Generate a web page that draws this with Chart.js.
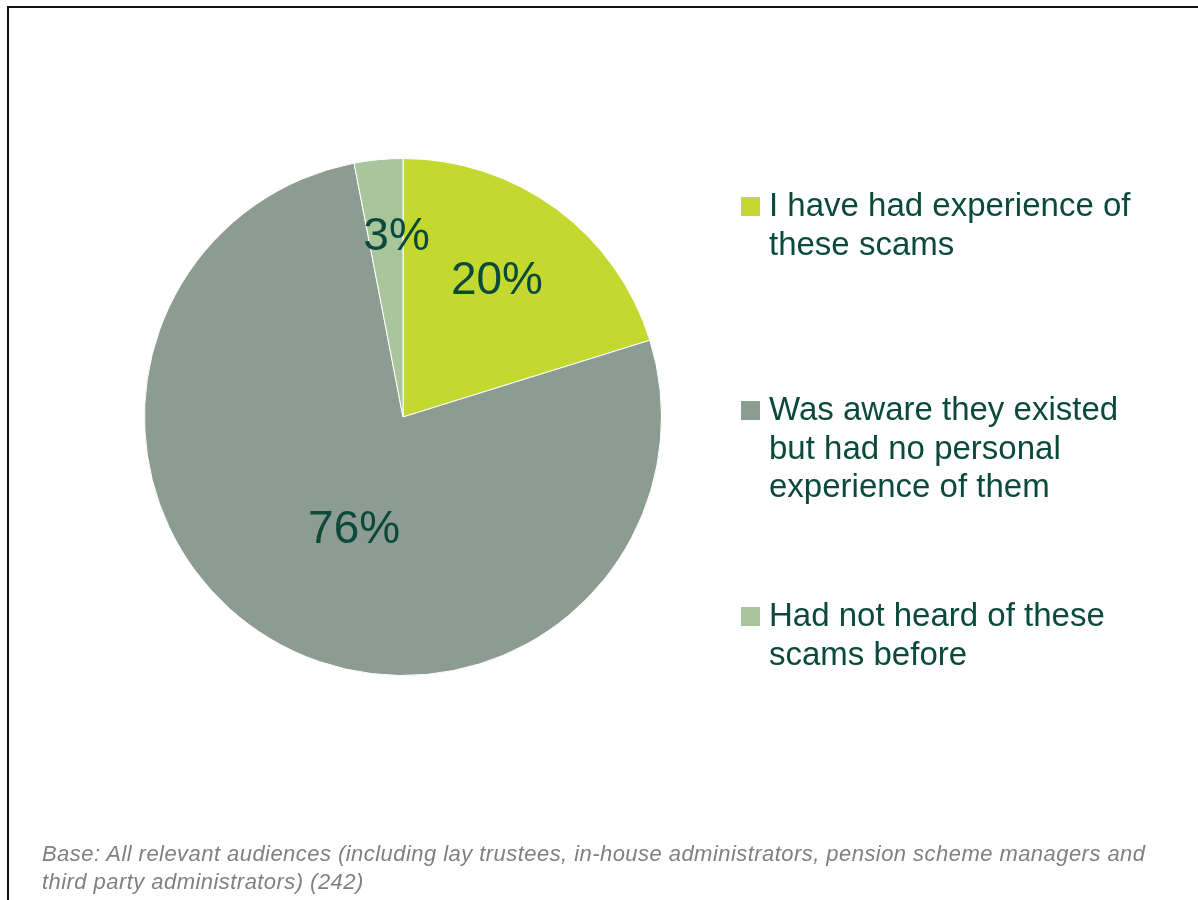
<!DOCTYPE html>
<html>
<head>
<meta charset="utf-8">
<script src="https://cdn.jsdelivr.net/npm/chart.js@4/dist/chart.umd.min.js"></script>
<style>
  html, body { margin: 0; padding: 0; background: #fff; }
  body { width: 1198px; height: 900px; position: relative; overflow: hidden; font-family: "Liberation Sans", Arial, sans-serif; }
  .frame { position: absolute; left: 7px; top: 6px; right: -10px; bottom: -10px; border-top: 2px solid #111; border-left: 2px solid #111; }
  #wrap { position: absolute; left: 0; top: 0; width: 1198px; height: 900px; }
  #legend { position: absolute; left: 741px; top: 186px; color: #0b4a3a; font-size: 33px; line-height: 38.5px; }
  .item { position: absolute; left: 0; white-space: nowrap; }
  .item .box { position: absolute; left: 0; top: 11px; width: 19px; height: 19px; }
  .item .txt { position: absolute; left: 28px; top: 0; }
  #note { position: absolute; left: 42px; top: 840px; color: #808080; font-size: 22px; letter-spacing: 0.45px; font-style: italic; line-height: 28px; white-space: nowrap; }
</style>
</head>
<body>
<div class="frame"></div>
<div id="wrap"><canvas id="pie"></canvas></div>
<div id="legend"></div>
<div id="note">Base: All relevant audiences (including lay trustees, in-house administrators, pension scheme managers and<br>third party administrators) (242)</div>
<script>
// Awareness of scams, % of respondents
const categories = [
  ['I have had experience of', 'these scams'],
  ['Was aware they existed', 'but had no personal', 'experience of them'],
  ['Had not heard of these', 'scams before']
];
const shares = [20, 76, 3];
const colors = ['#c4d92f', '#8c9c92', '#a9c59b'];

// percentage labels placed inside each slice, at a fraction of the radius
const sliceLabels = {
  id: 'sliceLabels',
  afterDatasetsDraw(chart, args, opts) {
    const ctx = chart.ctx;
    const meta = chart.getDatasetMeta(0);
    ctx.save();
    ctx.fillStyle = opts.color;
    ctx.font = opts.font;
    ctx.textAlign = 'center';
    ctx.textBaseline = 'middle';
    meta.data.forEach((arc, i) => {
      const mid = opts.angles[i] != null ? opts.angles[i] : (arc.startAngle + arc.endAngle) / 2;
      const r = arc.outerRadius * opts.radius[i];
      ctx.fillText(shares[i] + '%', arc.x + Math.cos(mid) * r, arc.y + Math.sin(mid) * r + opts.dy);
    });
    ctx.restore();
  }
};

const deg = d => (d - 90) * Math.PI / 180;

new Chart(document.getElementById('pie'), {
  type: 'pie',
  data: {
    labels: categories.map(c => c.join(' ')),
    datasets: [{ data: shares, backgroundColor: colors, borderColor: '#ffffff', borderWidth: 1 }]
  },
  options: {
    responsive: true, maintainAspectRatio: false, animation: false,
    layout: { padding: { left: 144, right: 536, top: 158, bottom: 224 } },
    plugins: {
      legend: { display: false },
      tooltip: { enabled: false },
      sliceLabels: {
        color: '#0b4a3a', font: '46px "Liberation Sans", Arial, sans-serif',
        radius: [0.65, 0.465, 0.71],
        angles: [deg(34), deg(204), deg(358)],
        dy: 4
      }
    }
  },
  plugins: [sliceLabels]
});

// legend to the right of the pie
const tops = [0, 204, 410];
document.getElementById('legend').innerHTML = categories.map((lines, i) =>
  `<div class="item" style="top:${tops[i]}px">
     <div class="box" style="background:${colors[i]}"></div>
     <div class="txt">${lines.join('<br>')}</div>
   </div>`).join('');
</script>
</body>
</html>
